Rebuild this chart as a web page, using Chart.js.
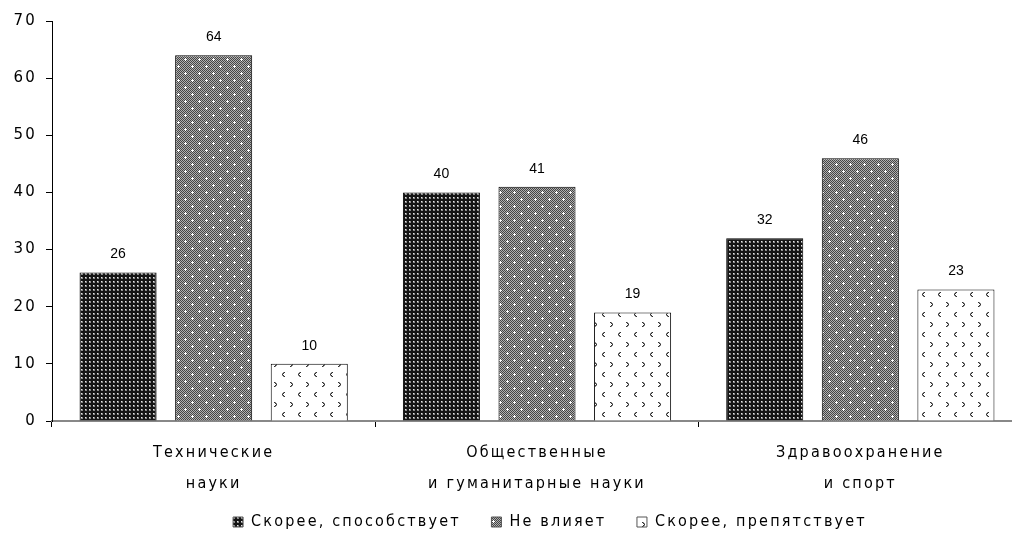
<!DOCTYPE html>
<html>
<head>
<meta charset="utf-8">
<script src="https://cdn.jsdelivr.net/npm/chart.js@4"></script>
<style>
  html, body { margin: 0; padding: 0; background: #fff; overflow: hidden; }
  #wrap { width: 1022px; height: 540px; }
</style>
</head>
<body>
<div id="wrap"><canvas id="chart" width="1022" height="540"></canvas></div>
<script>
// Chart data
const categories = [
    ['Технические', 'науки'],
    ['Общественные', 'и гуманитарные науки'],
    ['Здравоохранение', 'и спорт']
];
const seriesNames = ['Скорее, способствует', 'Не влияет', 'Скорее, препятствует'];
const helps = [26, 40, 32];
const noEffect = [64, 41, 46];
const hinders = [10, 19, 23];
const yTicks = [0, 10, 20, 30, 40, 50, 60, 70];

// Hatch patterns like the original print chart
function darkPattern() {
    const c = document.createElement('canvas');
    c.width = 4; c.height = 4;
    const g = c.getContext('2d');
    g.fillStyle = '#151515';
    g.fillRect(0, 0, 4, 4);
    g.fillStyle = '#8a8a8a';
    g.fillRect(1, 1, 2, 2);
    g.fillStyle = '#e8e8e8';
    g.fillRect(1, 1, 1, 1);
    return g.createPattern(c, 'repeat');
}

function midPattern() {
    const c = document.createElement('canvas');
    c.width = 14; c.height = 14;
    const g = c.getContext('2d');
    for (let y = 0; y < 14; y++) {
        for (let x = 0; x < 14; x++) {
            g.fillStyle = (x + y) % 2 === 0 ? '#444' : '#b0b0b0';
            g.fillRect(x, y, 1, 1);
        }
    }
    g.fillStyle = '#fff';
    [[3, 3], [10, 10]].forEach(([x, y]) => {
        g.fillRect(x - 1, y, 3, 1);
        g.fillRect(x, y - 1, 1, 3);
    });
    return g.createPattern(c, 'repeat');
}

function lightPattern() {
    const c = document.createElement('canvas');
    c.width = 16; c.height = 20;
    const g = c.getContext('2d');
    g.fillStyle = '#fff';
    g.fillRect(0, 0, 16, 20);
    g.fillStyle = '#333';
    // ">" mark
    [[2, 2], [3, 3], [4, 4], [3, 5], [2, 6]].forEach(([x, y]) => g.fillRect(x, y, 1, 1));
    g.fillStyle = '#888';
    [[3, 2], [4, 3], [4, 5], [3, 6]].forEach(([x, y]) => g.fillRect(x, y, 1, 1));
    // "<" mark
    g.fillStyle = '#333';
    [[12, 12], [11, 13], [10, 14], [11, 15], [12, 16]].forEach(([x, y]) => g.fillRect(x, y, 1, 1));
    g.fillStyle = '#888';
    [[11, 12], [10, 13], [10, 15], [11, 16]].forEach(([x, y]) => g.fillRect(x, y, 1, 1));
    return g.createPattern(c, 'repeat');
}

const fills = [darkPattern(), midPattern(), lightPattern()];

// Wide letter spacing of the original text
const spacing = {
    id: 'spacing',
    beforeUpdate(chart) { chart.ctx.letterSpacing = '2.2px'; },
    beforeDraw(chart) { chart.ctx.letterSpacing = '2.2px'; }
};

// Legend sits a bit right of the canvas centre in the original
const legendShift = {
    id: 'legendShift',
    afterLayout(chart) {
        if (chart.legend) {
            chart.legend.left += 39;
            chart.legend.right += 39;
        }
    }
};

// Value labels above bars
const valueLabels = {
    id: 'valueLabels',
    afterDatasetsDraw(chart) {
        const ctx = chart.ctx;
        ctx.save();
        ctx.letterSpacing = '0px';
        ctx.font = '14px "Liberation Sans", Arial, sans-serif';
        ctx.fillStyle = '#000';
        ctx.textAlign = 'center';
        ctx.textBaseline = 'bottom';
        chart.data.datasets.forEach((ds, i) => {
            chart.getDatasetMeta(i).data.forEach((bar, j) => {
                ctx.fillText(ds.data[j], bar.x, bar.y - 11);
            });
        });
        ctx.restore();
    }
};

const condensed = '"DejaVu Sans Condensed", "DejaVu Sans", sans-serif';

new Chart(document.getElementById('chart'), {
    type: 'bar',
    data: {
        labels: categories,
        datasets: [helps, noEffect, hinders].map((values, i) => ({
            label: seriesNames[i],
            data: values,
            backgroundColor: fills[i],
            borderColor: '#000',
            borderWidth: 1,
            categoryPercentage: 0.887,
            barPercentage: 0.806
        }))
    },
    options: {
        responsive: false,
        devicePixelRatio: 1,
        animation: false,
        layout: { padding: { top: 21, right: 0, left: 0, bottom: 0 } },
        plugins: {
            tooltip: { enabled: false },
            legend: {
                position: 'bottom',
                labels: {
                    font: { family: condensed, size: 16 },
                    color: '#000',
                    boxWidth: 10,
                    boxHeight: 10,
                    padding: 17,
                    generateLabels(chart) {
                        const n = chart.data.datasets.length;
                        return chart.data.datasets.map((ds, i) => ({
                            // extra gap between legend items
                            text: i < n - 1 ? ds.label + '  ' : ds.label,
                            fillStyle: fills[i],
                            strokeStyle: '#555',
                            lineWidth: 1,
                            datasetIndex: i
                        }));
                    }
                }
            }
        },
        scales: {
            x: {
                border: { color: '#888', width: 2 },
                grid: { drawOnChartArea: false, drawTicks: true, tickLength: 6, color: '#000', offset: true },
                ticks: {
                    font: { family: condensed, size: 16, lineHeight: 1.94 },
                    color: '#000', padding: 10.5, maxRotation: 0
                },
                afterFit(axis) { axis.height = 76; }
            },
            y: {
                min: 0,
                max: 70,
                afterBuildTicks(axis) { axis.ticks = yTicks.map(v => ({ value: v })); },
                border: { color: '#000', width: 1 },
                grid: { drawOnChartArea: false, drawTicks: true, tickLength: 6, color: '#000' },
                ticks: { font: { family: '"DejaVu Sans", sans-serif', size: 15 }, color: '#000', padding: 9 },
                afterFit(axis) { axis.width = 52; }
            }
        }
    },
    plugins: [spacing, legendShift, valueLabels]
});
</script>
</body>
</html>
